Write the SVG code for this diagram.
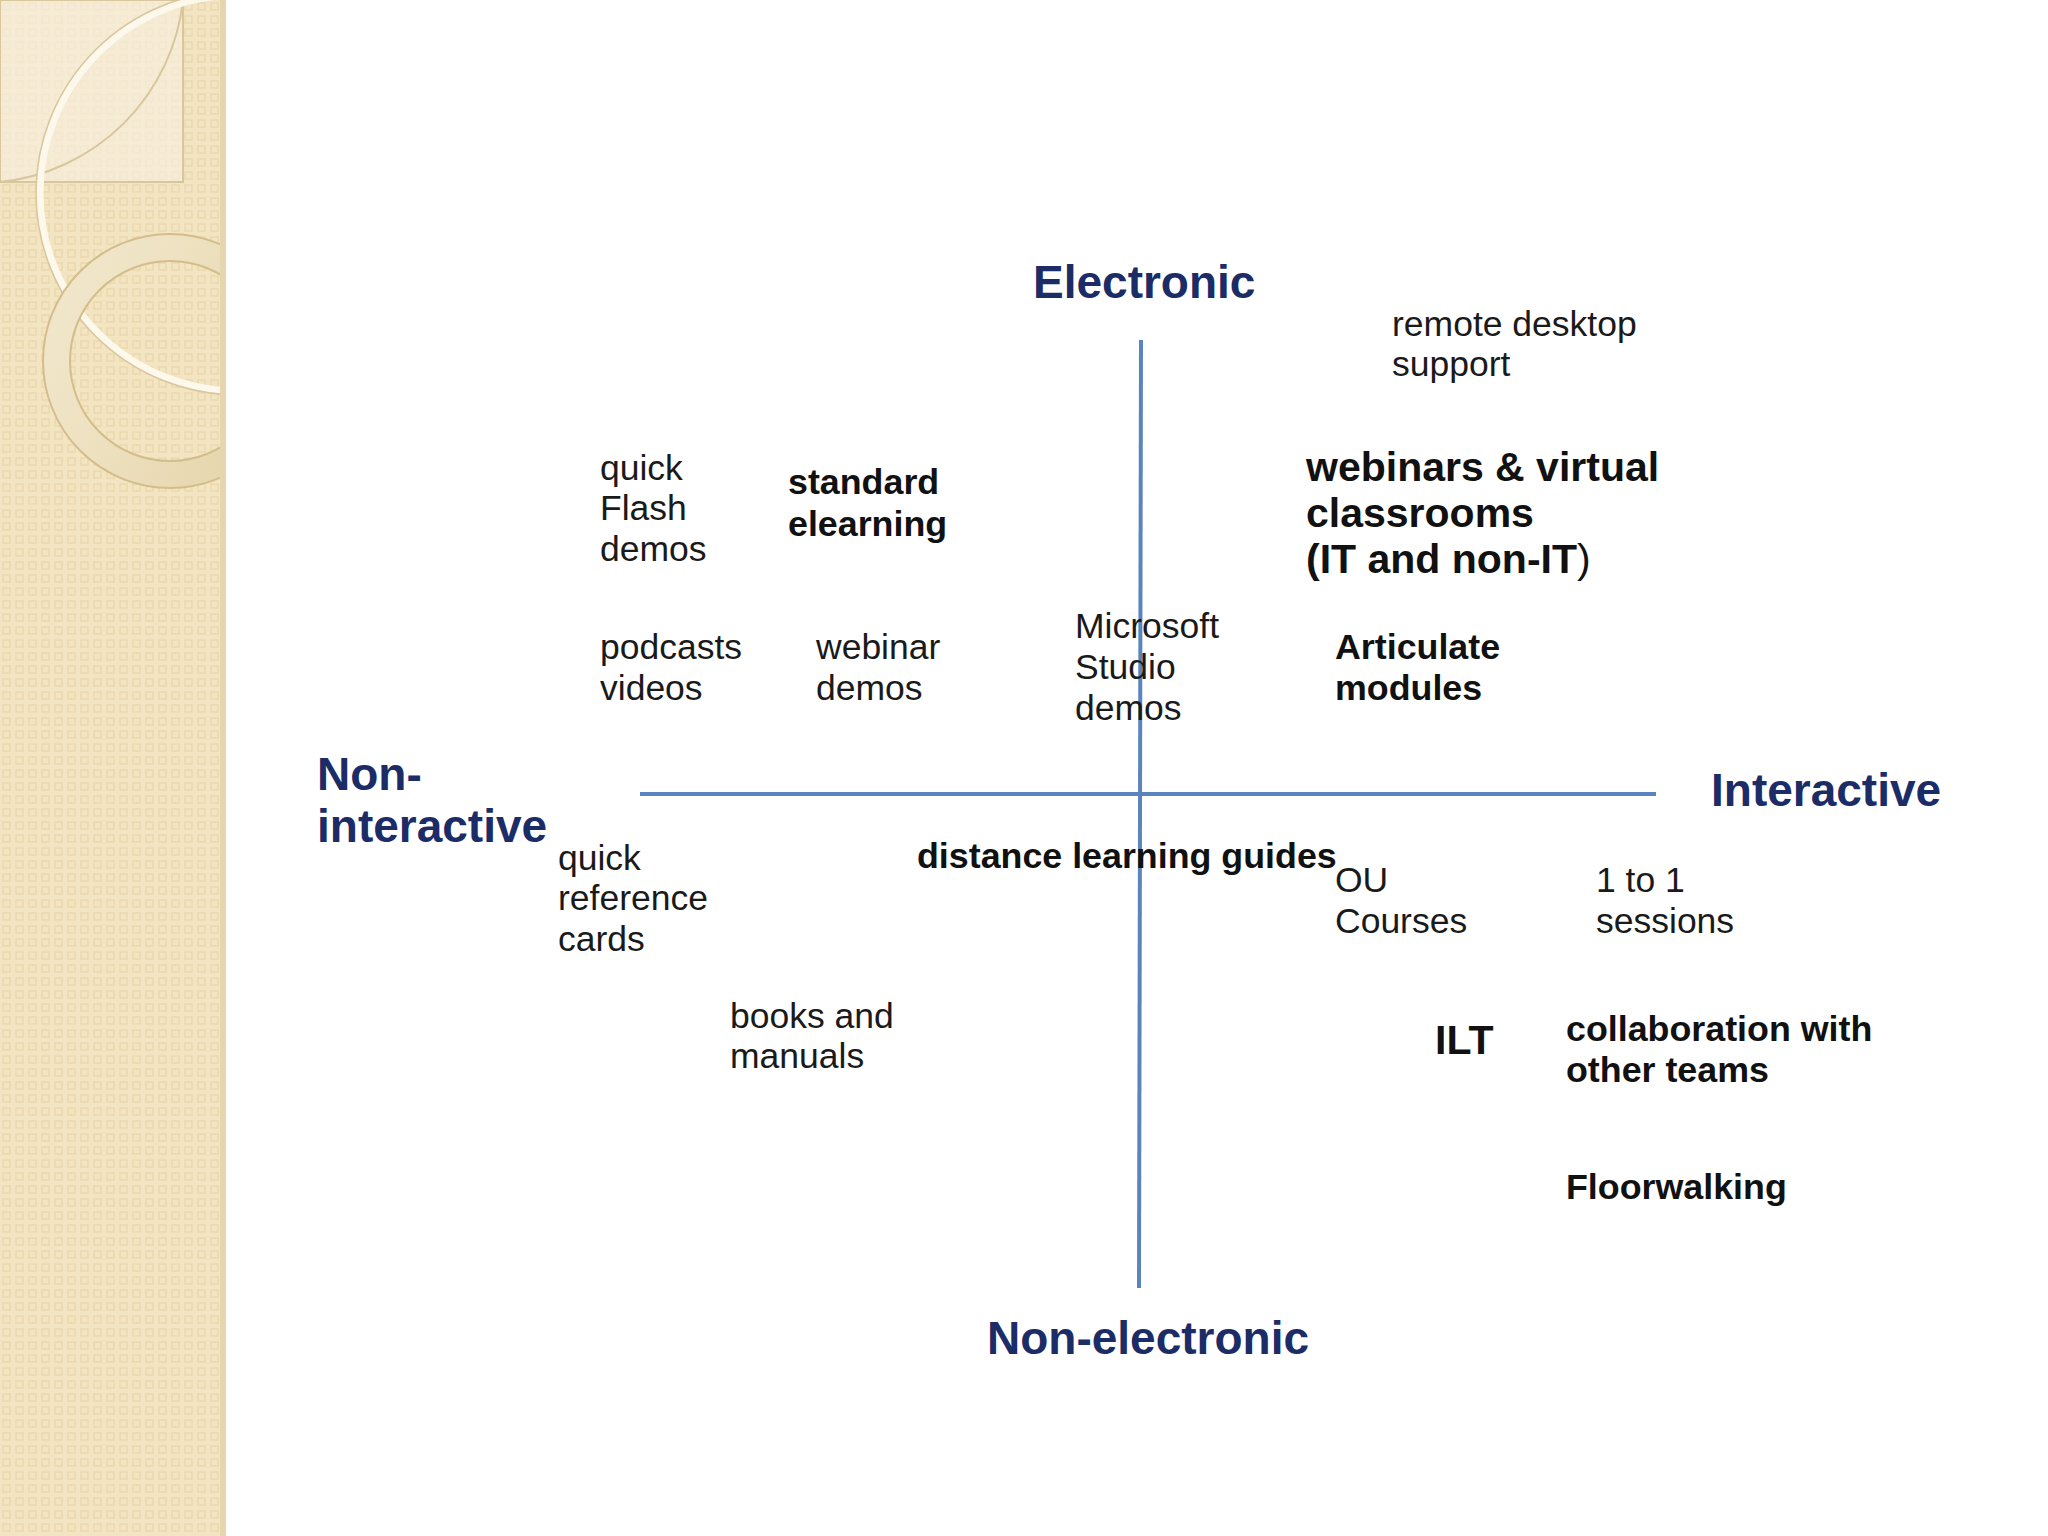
<svg xmlns="http://www.w3.org/2000/svg" width="2048" height="1536" viewBox="0 0 2048 1536">
<defs>
<style>
.ax{font-family:"Liberation Sans",Arial,sans-serif;font-weight:bold;font-size:46px;fill:#1B2C66}
.t{font-family:"Liberation Sans",Arial,sans-serif;font-size:35.5px;fill:#1a1a1a}
.b{font-family:"Liberation Sans",Arial,sans-serif;font-size:35.8px;font-weight:bold;fill:#111}
.bl{font-family:"Liberation Sans",Arial,sans-serif;font-size:41px;font-weight:bold;fill:#111}
.axis{stroke:#5A84BE;stroke-width:4;fill:none}
</style>
<pattern id="dots" x="0" y="0" width="13" height="13" patternUnits="userSpaceOnUse">
<rect width="13" height="13" fill="#F3E4C2"/>
<rect x="3" y="3" width="7" height="7" fill="none" stroke="#EAD8AE" stroke-width="1.5"/>
</pattern>
<linearGradient id="ringg" x1="0" y1="0" x2="1" y2="1">
<stop offset="0" stop-color="#F5EEDA"/>
<stop offset="0.5" stop-color="#EEE2C2"/>
<stop offset="1" stop-color="#E1CD9C"/>
</linearGradient>
<clipPath id="panel"><rect x="0" y="0" width="226" height="1536"/></clipPath>
<mask id="ringmask">
<circle cx="170" cy="361" r="127" fill="#fff"/>
<circle cx="170" cy="361" r="100" fill="#000"/>
</mask>
</defs>
<rect width="2048" height="1536" fill="#FFFFFF"/>
<g id="sidebar" clip-path="url(#panel)">
<rect x="0" y="0" width="226" height="1536" fill="url(#dots)"/>
<rect x="0" y="0" width="183" height="182" fill="#F7EEDA" opacity="0.75"/>
<path d="M183,0 A 205 205 0 0 1 0,182" fill="none" stroke="#D8C69C" stroke-width="2"/>
<rect x="0" y="0" width="183" height="182" fill="none" stroke="#D8C69C" stroke-width="2"/>
<circle cx="238" cy="193" r="198" fill="none" stroke="#FCF8EC" stroke-width="7"/>
<circle cx="238" cy="193" r="202" fill="none" stroke="#D9C69C" stroke-width="1.5"/>
<rect x="0" y="0" width="300" height="600" fill="url(#ringg)" mask="url(#ringmask)"/>
<circle cx="170" cy="361" r="127" fill="none" stroke="#D3BD8B" stroke-width="2"/>
<circle cx="170" cy="361" r="100" fill="none" stroke="#D3BD8B" stroke-width="2"/>
<rect x="220" y="0" width="6" height="1536" fill="#E6D6B0"/>
</g>
<g id="connectors">
<line class="axis" x1="640" y1="794" x2="1656" y2="794"/>
<line class="axis" x1="1141" y1="340" x2="1139" y2="1288"/>
</g>
<g id="electronic"><text class="ax" x="1033" y="298">Electronic</text></g>
<g id="non-electronic"><text class="ax" x="987" y="1354">Non-electronic</text></g>
<g id="interactive"><text class="ax" x="1711" y="806">Interactive</text></g>
<g id="non-interactive"><text class="ax" x="317" y="790">Non-</text><text class="ax" x="317" y="842">interactive</text></g>
<g id="quick-flash"><text class="t" x="600" y="480">quick</text><text class="t" x="600" y="520">Flash</text><text class="t" x="600" y="561">demos</text></g>
<g id="standard-elearning"><text class="b" x="788" y="494">standard</text><text class="b" x="788" y="536">elearning</text></g>
<g id="podcasts"><text class="t" x="600" y="659">podcasts</text><text class="t" x="600" y="700">videos</text></g>
<g id="webinar-demos"><text class="t" x="816" y="659">webinar</text><text class="t" x="816" y="700">demos</text></g>
<g id="microsoft-studio"><text class="t" x="1075" y="638">Microsoft</text><text class="t" x="1075" y="679">Studio</text><text class="t" x="1075" y="720">demos</text></g>
<g id="remote-desktop"><text class="t" x="1392" y="336">remote desktop</text><text class="t" x="1392" y="376">support</text></g>
<g id="webinars-virtual"><text class="bl" x="1306" y="481">webinars &amp; virtual</text><text class="bl" x="1306" y="527">classrooms</text><text class="bl" x="1306" y="573">(IT and non-IT<tspan font-weight="normal">)</tspan></text></g>
<g id="articulate"><text class="b" x="1335" y="659">Articulate</text><text class="b" x="1335" y="700">modules</text></g>
<g id="distance-learning"><text class="b" x="917" y="868">distance learning guides</text></g>
<g id="ou-courses"><text class="t" x="1335" y="892">OU</text><text class="t" x="1335" y="933">Courses</text></g>
<g id="one-to-one"><text class="t" x="1596" y="892">1 to 1</text><text class="t" x="1596" y="933">sessions</text></g>
<g id="quick-reference"><text class="t" x="558" y="870">quick</text><text class="t" x="558" y="910">reference</text><text class="t" x="558" y="951">cards</text></g>
<g id="books-manuals"><text class="t" x="730" y="1028">books and</text><text class="t" x="730" y="1068">manuals</text></g>
<g id="ilt"><text class="bl" x="1435" y="1054">ILT</text></g>
<g id="collaboration"><text class="b" x="1566" y="1041">collaboration with</text><text class="b" x="1566" y="1082">other teams</text></g>
<g id="floorwalking"><text class="b" x="1566" y="1199">Floorwalking</text></g>
</svg>
